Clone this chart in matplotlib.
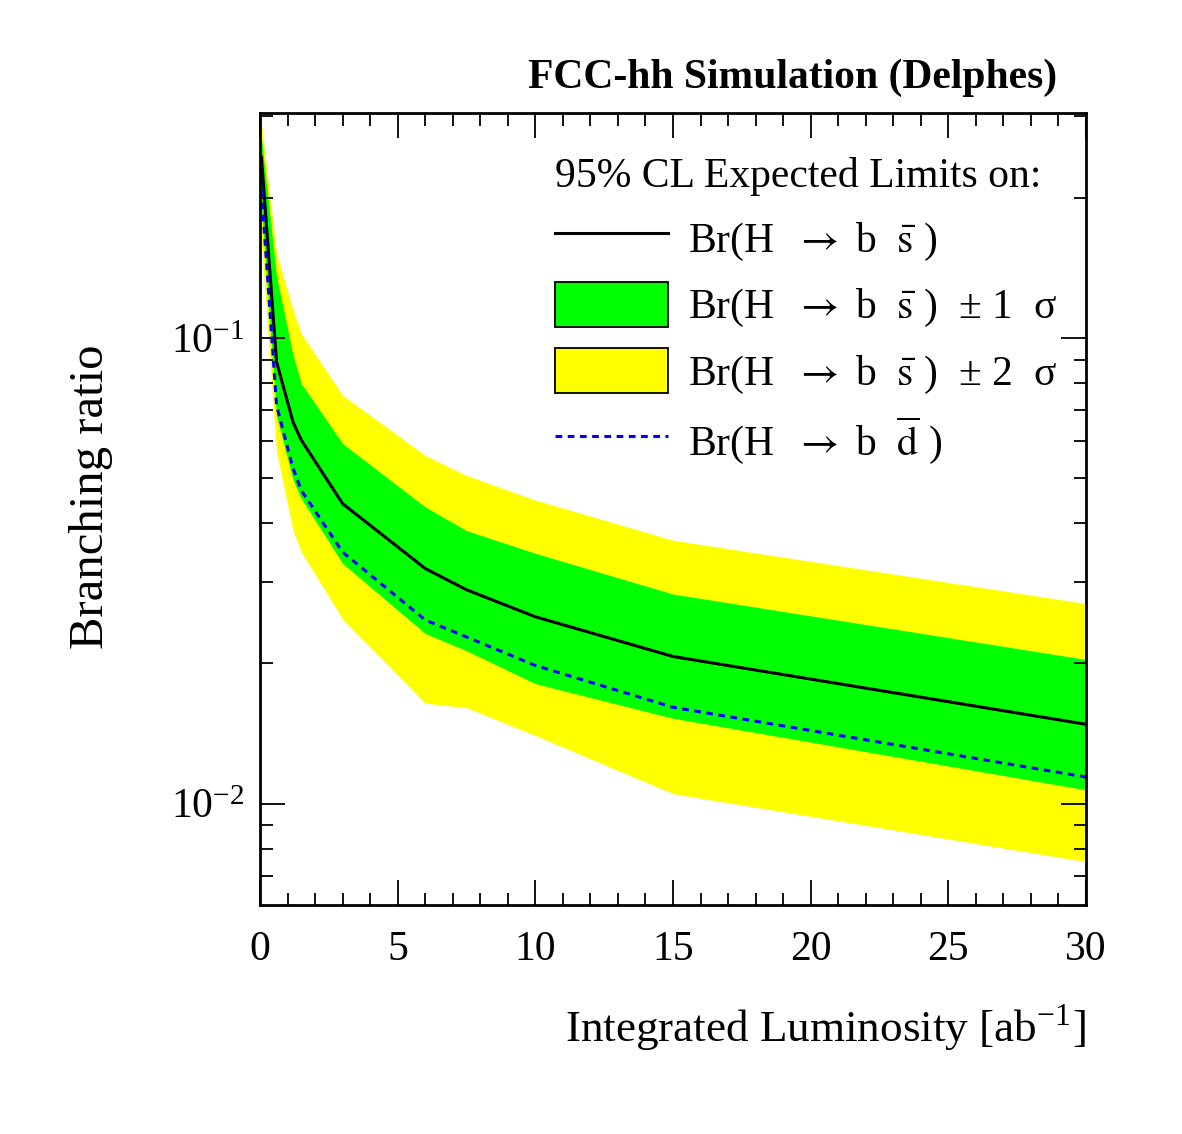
import matplotlib
matplotlib.use("Agg")
import matplotlib.pyplot as plt
from matplotlib.patches import Patch
from matplotlib.lines import Line2D
from matplotlib.ticker import MultipleLocator, LogLocator

plt.rcParams['font.family'] = ['Liberation Serif', 'DejaVu Serif']
plt.rcParams['mathtext.fontset'] = 'stix'

# integrated luminosity [ab^-1]
lumi = [0.05, 0.6, 1.2, 1.5, 3, 6, 7.5, 10, 15, 30]
# expected limit Br(H -> b sbar)
br_bs = [0.245, 0.089, 0.066, 0.0604, 0.0441, 0.0320, 0.0288, 0.0252, 0.0207, 0.0148]
# +-1 sigma band
bs_1s_lo = [0.19, 0.068, 0.0496, 0.0452, 0.0328, 0.0232, 0.0213, 0.0181, 0.01525, 0.0107]
bs_1s_hi = [0.27, 0.136, 0.092, 0.0799, 0.0594, 0.0434, 0.0386, 0.0345, 0.0282, 0.0204]
# +-2 sigma band
bs_2s_lo = [0.16, 0.057, 0.0386, 0.0347, 0.0249, 0.01643, 0.01607, 0.0140, 0.0105, 0.0075]
bs_2s_hi = [0.29, 0.152, 0.115, 0.1023, 0.0754, 0.056, 0.0507, 0.0449, 0.0368, 0.0269]
# expected limit Br(H -> b dbar)
br_bd = [0.208, 0.0718, 0.0525, 0.0471, 0.0347, 0.0248, 0.0228, 0.0198, 0.0161, 0.0114]

fig = plt.figure(figsize=(11.82, 11.34), dpi=100)
ax = fig.add_axes([0.22, 0.2019, 0.6988, 0.6985])

ax.fill_between(lumi, bs_2s_lo, bs_2s_hi, color='#ffff00', lw=0)
ax.fill_between(lumi, bs_1s_lo, bs_1s_hi, color='#00ff00', lw=0)
ax.plot(lumi, br_bs, color='black', lw=2.2)
ax.plot(lumi, br_bd, color='blue', lw=2.2, ls=(0, (2.2, 1.8)))

ax.set_yscale('log')
ax.set_xlim(0, 30)
ax.set_ylim(0.00605, 0.305)

ax.xaxis.set_major_locator(MultipleLocator(5))
ax.xaxis.set_minor_locator(MultipleLocator(1))
ax.yaxis.set_major_locator(LogLocator(base=10))
ax.yaxis.set_minor_locator(LogLocator(base=10, subs=range(2, 10)))
ax.yaxis.set_minor_formatter(plt.NullFormatter())

ax.tick_params(which='both', direction='in', top=True, right=True, width=1.3, labelsize=30)
ax.tick_params(which='major', length=18)
ax.tick_params(which='minor', length=9)
ax.tick_params(axis='x', pad=18)
ax.tick_params(axis='y', pad=11)
for s in ax.spines.values():
    s.set_linewidth(2)

ax.set_xlabel(r"Integrated Luminosity [ab$^{\mathregular{-1}}$]", fontsize=32.5, loc='right', labelpad=24)
ax.set_ylabel("Branching ratio", fontsize=35, labelpad=42)
ax.yaxis.label.set_y(0.516)

fig.text(0.894, 0.931, "FCC-hh Simulation (Delphes)", fontsize=30, fontweight='bold',
         ha='right', va='center')

handles = [
    Line2D([], [], color='black', lw=2.2),
    Patch(facecolor='#00ff00', edgecolor='black', lw=1.3),
    Patch(facecolor='#ffff00', edgecolor='black', lw=1.3),
    Line2D([], [], color='blue', lw=2.2, ls=(0, (2.2, 1.8))),
]
labels = [
    r"Br(H  $\rightarrow$ b  $\bar{\mathrm{s}}$ )",
    r"Br(H  $\rightarrow$ b  $\bar{\mathrm{s}}$ )  ± 1  σ",
    r"Br(H  $\rightarrow$ b  $\bar{\mathrm{s}}$ )  ± 2  σ",
    r"Br(H  $\rightarrow$ b  $\overline{\mathrm{d}}$ )",
]
leg = ax.legend(handles, labels, loc='upper left', bbox_to_anchor=(0.337, 0.965),
                frameon=False, fontsize=30, title="95% CL Expected Limits on:",
                title_fontsize=30, handlelength=2.7, handleheight=1.3,
                handletextpad=0.5, labelspacing=0.45, borderaxespad=0)
leg._legend_box.align = 'left'

fig.savefig("out.png", dpi=100)
